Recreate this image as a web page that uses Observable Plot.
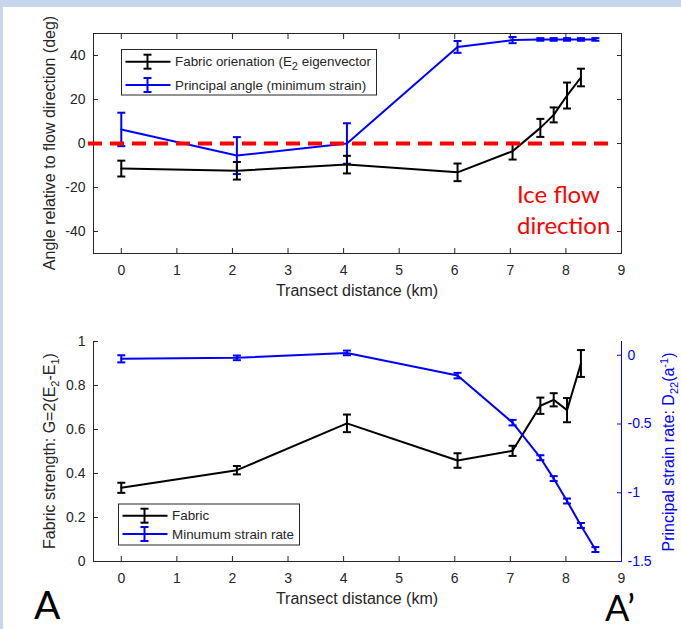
<!DOCTYPE html>
<html>
<head>
<meta charset="utf-8">
<script src="https://cdn.jsdelivr.net/npm/d3@7"></script>
<script src="https://cdn.jsdelivr.net/npm/@observablehq/plot@0.6"></script>
<style>
  html, body { margin: 0; padding: 0; background: #fff; }
  #wrap { position: relative; width: 681px; height: 629px; background: #fff; overflow: hidden; }
  .strip-top { position: absolute; left: 0; top: 0; width: 681px; height: 7px; background: #c7d6ed; }
  .strip-left { position: absolute; left: 0; top: 0; width: 3px; height: 629px; background: #c7d6ed; }
  #topChart, #botChart { position: absolute; left: 0; }
  #topChart { top: 0; }
  #botChart { top: 315px; }
  #overlay { position: absolute; left: 0; top: 0; pointer-events: none; }
</style>
</head>
<body>
<div id="wrap">
  <div class="strip-top"></div>
  <div class="strip-left"></div>
  <div id="topChart"></div>
  <div id="botChart"></div>
  <svg id="overlay" width="681" height="629"></svg>
</div>
<script>
// ---------------- data ----------------
const xs = [0, 2.08, 4.06, 6.05, 7.04, 7.54, 7.78, 8.02, 8.27, 8.53];
const fabricOrient = [-11.4, -12.4, -9.6, -13.1, -3.5, 7.1, 13.0, 21.8, 30.0];
const fabricOrientErr = [3.6, 4.0, 4.0, 4.0, 3.8, 4.1, 3.4, 5.9, 4.0];
const principalAngle = [6.4, -5.5, 0.0, 43.9, 47.0, 47.3, 47.3, 47.3, 47.3, 47.3];
const principalAngleErr = [7.6, 8.4, 9.2, 2.7, 1.4, 0.6, 0.6, 0.6, 0.6, 0.6];
const fabricStrength = [0.335, 0.415, 0.628, 0.459, 0.503, 0.708, 0.735, 0.688, 0.900];
const fabricStrengthErr = [0.023, 0.019, 0.040, 0.033, 0.023, 0.037, 0.030, 0.055, 0.061];
const strainRate = [-0.026, -0.019, 0.017, -0.148, -0.490, -0.745, -0.897, -1.060, -1.238, -1.413];
const strainRateErr = [0.026, 0.017, 0.017, 0.020, 0.020, 0.018, 0.018, 0.018, 0.018, 0.018];

const xTicks = [0, 1, 2, 3, 4, 5, 6, 7, 8, 9];
const angleTicks = [-40, -20, 0, 20, 40];
const strengthTicks = [0, 0.2, 0.4, 0.6, 0.8, 1];
const strainTicks = [-1.5, -1, -0.5, 0];

const BLACK = "#000000", BLUE = "#0000ff", RED = "#ff0000", AX = "#262626";
const FONT = "'Liberation Sans', Arial, Helvetica, sans-serif";

// table builders
const rows = (vals, errs) => vals.map((v, i) => ({x: xs[i], y: v, e: errs[i]}));
const orientRows = rows(fabricOrient, fabricOrientErr);
const angleRows = rows(principalAngle, principalAngleErr);
const strengthRows = rows(fabricStrength, fabricStrengthErr);
// right axis mapped onto left scale
const sMap = d3.scaleLinear([-1.5, 0.1], [0, 1]);
const strainRows = rows(strainRate, strainRateErr).map(d => ({x: d.x, y: sMap(d.y), lo: sMap(d.y - d.e), hi: sMap(d.y + d.e)}));

// cap symbol for error bars
const capSymbol = {draw(ctx, size) { const r = Math.sqrt(size / Math.PI); ctx.moveTo(-r, 0); ctx.lineTo(r, 0); }};

function errorMarks(data, color, lo, hi) {
  return [
    Plot.ruleX(data, {x: "x", y1: lo, y2: hi, stroke: color, strokeWidth: 2}),
    Plot.dot(data, {x: "x", y: lo, symbol: capSymbol, r: 4, stroke: color, fill: "none", strokeWidth: 2}),
    Plot.dot(data, {x: "x", y: hi, symbol: capSymbol, r: 4, stroke: color, fill: "none", strokeWidth: 2})
  ];
}
const fmt = d => String(+d.toFixed(2));

// ---------------- top chart ----------------
const topPlot = Plot.plot({
  width: 681, height: 315,
  marginTop: 33, marginBottom: 62, marginLeft: 93, marginRight: 60,
  style: {fontFamily: FONT, fontSize: "14px", color: AX, background: "transparent", overflow: "visible"},
  x: {domain: [-0.5, 9]},
  y: {domain: [-50, 50]},
  marks: [
    Plot.frame({stroke: AX, strokeWidth: 1}),
    Plot.axisX({ticks: xTicks, tickSize: -5, tickPadding: 17, tickFormat: fmt, label: null, color: AX}),
    Plot.axisX({anchor: "top", ticks: xTicks, tickSize: -5, tickFormat: () => "", label: null, color: AX}),
    Plot.axisY({ticks: angleTicks, tickSize: -5, tickPadding: 13, tickFormat: fmt, label: null, color: AX}),
    Plot.axisY({anchor: "right", ticks: angleTicks, tickSize: -5, tickFormat: () => "", label: null, color: AX}),
    Plot.line(angleRows, {x: "x", y: "y", stroke: BLUE, strokeWidth: 2}),
    ...errorMarks(angleRows, BLUE, d => d.y - d.e, d => d.y + d.e),
    Plot.line(orientRows, {x: "x", y: "y", stroke: BLACK, strokeWidth: 2}),
    ...errorMarks(orientRows, BLACK, d => d.y - d.e, d => d.y + d.e),
    Plot.ruleY([0], {stroke: RED, strokeWidth: 4, strokeDasharray: "14,8", insetLeft: -5, insetRight: 12})
  ]
});
document.getElementById("topChart").appendChild(topPlot);

// ---------------- bottom chart ----------------
const botPlot = Plot.plot({
  width: 681, height: 314,
  marginTop: 26, marginBottom: 68, marginLeft: 93, marginRight: 60,
  style: {fontFamily: FONT, fontSize: "14px", color: AX, background: "transparent", overflow: "visible"},
  x: {domain: [-0.5, 9]},
  y: {domain: [0, 1]},
  marks: [
    Plot.ruleX([-0.5], {stroke: AX}),
    Plot.ruleY([0], {stroke: AX}),
    Plot.ruleX([9], {stroke: BLUE}),
    Plot.axisX({ticks: xTicks, tickSize: -5, tickPadding: 17, tickFormat: fmt, label: null, color: AX}),
    Plot.axisY({ticks: strengthTicks, tickSize: -5, tickPadding: 13, tickFormat: fmt, label: null, color: AX}),
    Plot.axisY({anchor: "right", ticks: strainTicks.map(sMap), tickSize: -5, tickPadding: 11,
      tickFormat: d => fmt(sMap.invert(d)), label: null, color: BLUE}),
    Plot.line(strengthRows, {x: "x", y: "y", stroke: BLACK, strokeWidth: 2}),
    ...errorMarks(strengthRows, BLACK, d => d.y - d.e, d => d.y + d.e),
    Plot.line(strainRows, {x: "x", y: "y", stroke: BLUE, strokeWidth: 2}),
    ...errorMarks(strainRows, BLUE, "lo", "hi")
  ]
});
document.getElementById("botChart").appendChild(botPlot);

// ---------------- overlay: labels, legends, annotations ----------------
const ov = d3.select("#overlay");
// segs: array of strings or {t, dy, size}
function addText(x, y, segs, opts = {}) {
  const t = ov.append("text")
    .attr("x", x).attr("y", y)
    .attr("font-family", opts.font || FONT)
    .attr("font-size", opts.size || 16)
    .attr("fill", opts.fill || AX)
    .attr("text-anchor", opts.anchor || "start");
  if (opts.rotate) t.attr("transform", `rotate(${opts.rotate},${x},${y})`);
  (Array.isArray(segs) ? segs : [segs]).forEach(s => {
    const o = typeof s === "string" ? {t: s} : s;
    const ts = t.append("tspan").text(o.t);
    if (o.dy) ts.attr("dy", o.dy);
    if (o.size) ts.attr("font-size", o.size);
  });
  return t;
}
const sub = s => ({t: s, dy: 4, size: 11});
const sup = s => ({t: s, dy: -6, size: 11});
const back = (s, d) => ({t: s, dy: d});

// axis titles
addText(357, 296, "Transect distance (km)", {anchor: "middle"});
addText(357, 604, "Transect distance (km)", {anchor: "middle"});
addText(55, 143, "Angle relative to flow direction (deg)", {anchor: "middle", rotate: -90});
addText(55, 451, ["Fabric strength: G=2(E", sub("2"), back("-E", -4), sub("1"), back(")", -4)], {anchor: "middle", rotate: -90});
addText(674, 452, ["Principal strain rate: D", sub("22"), back("(a", -4), sup("-1"), back(")", 6)], {anchor: "middle", rotate: -90, fill: BLUE});

// red annotation
addText(517, 203, "Ice flow", {font: "Lato, 'Open Sans', sans-serif", size: 24, fill: RED});
addText(517, 234, "direction", {font: "Lato, 'Open Sans', sans-serif", size: 24, fill: RED});

// A and A'
addText(34, 619, "A", {font: "Lato, 'Open Sans', sans-serif", size: 39, fill: "#000"});
addText(605, 621, "A\u2019", {font: "Lato, 'Open Sans', sans-serif", size: 36, fill: "#000"});

// legends
function legend(x, y, w, h, entries) {
  ov.append("rect").attr("x", x).attr("y", y).attr("width", w).attr("height", h)
    .attr("fill", "#fff").attr("stroke", AX).attr("stroke-width", 1);
  entries.forEach(en => {
    const cx = x + 26;
    ov.append("line").attr("x1", x + 4).attr("x2", x + 49).attr("y1", en.y).attr("y2", en.y)
      .attr("stroke", en.color).attr("stroke-width", 2);
    ov.append("line").attr("x1", cx).attr("x2", cx).attr("y1", en.y - 7).attr("y2", en.y + 7)
      .attr("stroke", en.color).attr("stroke-width", 2);
    [-7, 7].forEach(dy => ov.append("line").attr("x1", cx - 4).attr("x2", cx + 4)
      .attr("y1", en.y + dy).attr("y2", en.y + dy).attr("stroke", en.color).attr("stroke-width", 2));
    addText(x + 53.5, en.y + 4.7, en.label, {size: 13.4, fill: AX});
  });
}
legend(121.5, 49.5, 255, 45.5, [
  {y: 61.7, color: BLACK, label: ["Fabric orienation (E", sub("2"), back(" eigenvector", -4)]},
  {y: 85, color: BLUE, label: "Principal angle (minimum strain)"}
]);
legend(118.5, 504, 181, 41, [
  {y: 515.7, color: BLACK, label: "Fabric"},
  {y: 534, color: BLUE, label: "Minumum strain rate"}
]);
</script>
</body>
</html>
